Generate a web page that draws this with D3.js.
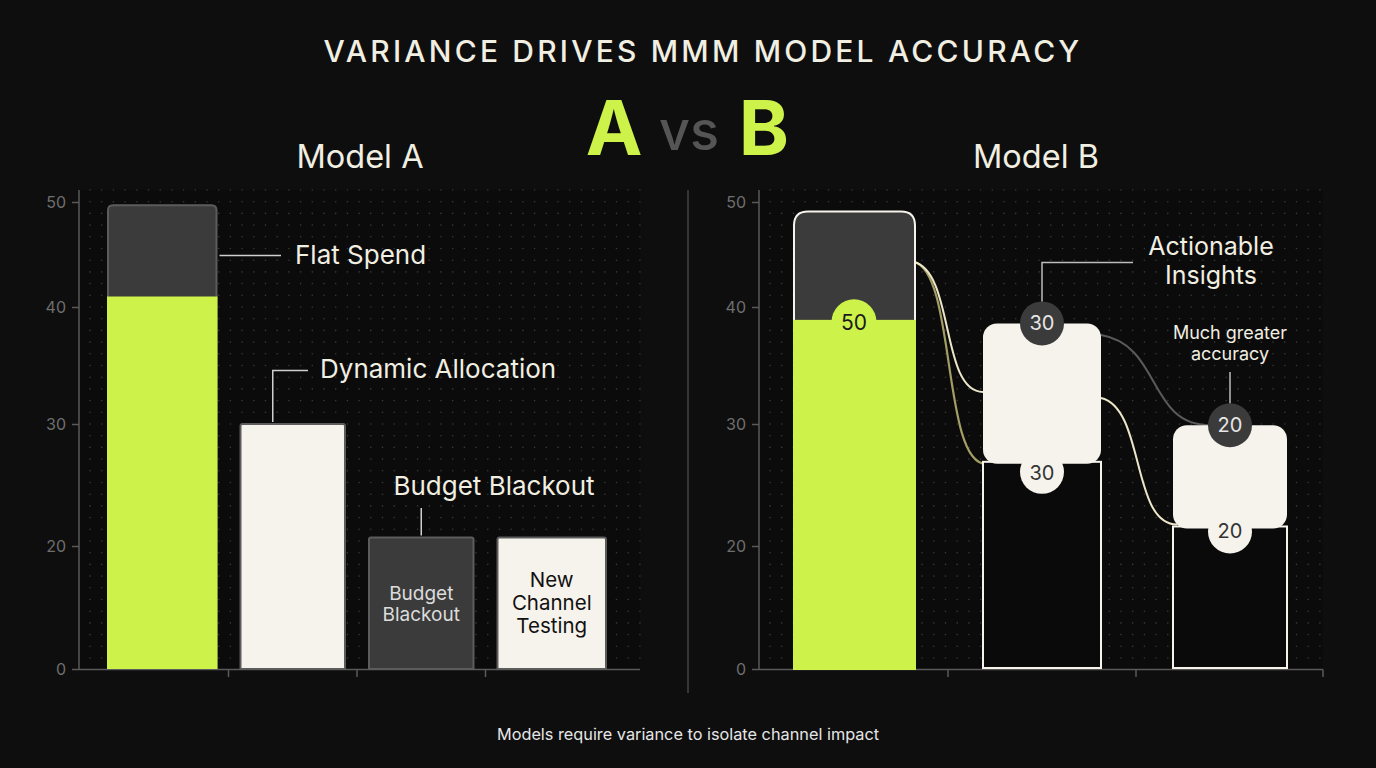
<!DOCTYPE html>
<html><head><meta charset="utf-8">
<script src="https://cdn.jsdelivr.net/npm/d3@7"></script>
<style>
html,body{margin:0;padding:0;background:#0e0e0e;}
svg{display:block;font-family:Inter,"Noto Sans",sans-serif;}
</style></head>
<body><svg id="c" width="1376" height="768"></svg>
<script>
// ---- data ----
const yTicks = [0, 20, 30, 40, 50];
const modelACategories = ["Flat Spend", "Dynamic Allocation", "Budget Blackout", "New Channel Testing"];
const modelAValues = [49.7, 30, 20.7, 20.7];
const modelAFlatGreen = 41;           // green (contributing) part of the first bar
const modelAInnerLabels = [null, null, ["Budget", "Blackout"], ["New", "Channel", "Testing"]];
const modelBCategories = ["Channel 1", "Channel 2", "Channel 3"];
const modelBBase = [38.9, 26.9, 21.6];   // lower (baseline) portion
const modelBTop = [49.1, 38.6, 29.9];    // top of the attributed block
const modelBLabels = [50, 30, 20];

// ---- styling ----
const C = {bg:"#0e0e0e", plot:"#0b0b0b", green:"#cdf24a", dark:"#3b3b3b", cream:"#f6f3ec",
  axis:"#5a5a5a", tick:"#6e6e6e", text:"#f1eee2", dot:"#393939"};

const svg = d3.select("#c");
svg.append("rect").attr("width",1376).attr("height",768).attr("fill",C.bg);

// piecewise y scale (as in the reference axis)
const yScale = d3.scaleLinear().domain(yTicks).range([669, 546, 424, 307, 202]);

const xA = d3.scaleBand().domain(modelACategories).range([100, 614]);
const xB = d3.scaleBand().domain(modelBCategories).range([760, 1324]);

function plotFrame(x0, x1, xScale){
  svg.append("rect").attr("x",x0).attr("y",190).attr("width",x1-x0).attr("height",479).attr("fill",C.plot);
  const g = svg.append("g");
  const sp = 11.7;
  for(let yy=190; yy<668; yy+=sp){
    for(let xx=x0+11; xx<x1; xx+=sp){
      g.append("circle").attr("cx",xx).attr("cy",yy).attr("r",0.8).attr("fill",C.dot);
    }
  }
  const ax = svg.append("g").attr("transform",`translate(${x0},0)`)
    .call(d3.axisLeft(yScale).tickValues(yTicks).tickSize(7).tickPadding(6));
  ax.select(".domain").remove();
  ax.selectAll("line").attr("stroke",C.axis).attr("stroke-width",1.5);
  ax.selectAll("text").attr("fill",C.tick).attr("font-size",16).attr("font-family","Inter,sans-serif");
  svg.append("line").attr("x1",x0).attr("x2",x0).attr("y1",190).attr("y2",669.5).attr("stroke",C.axis).attr("stroke-width",1.5);
  svg.append("line").attr("x1",x0).attr("x2",x1).attr("y1",669.5).attr("y2",669.5).attr("stroke",C.axis).attr("stroke-width",1.5);
  const dom = xScale.domain();
  dom.forEach((d,i)=>{ if(i>0){ const bx = xScale(d);
    svg.append("line").attr("x1",bx).attr("x2",bx).attr("y1",669.5).attr("y2",677).attr("stroke",C.axis).attr("stroke-width",1.5);} });
}
plotFrame(79, 640, xA);
plotFrame(759, 1323, xB);
// end tick on right axis
svg.append("line").attr("x1",xB.range()[1]-1).attr("x2",xB.range()[1]-1).attr("y1",669.5).attr("y2",677).attr("stroke",C.axis).attr("stroke-width",1.5);

// divider
svg.append("line").attr("x1",688).attr("x2",688).attr("y1",190).attr("y2",693).attr("stroke","#444").attr("stroke-width",1.5);

// titles
svg.append("text").attr("x",703).attr("y",62).attr("text-anchor","middle").attr("fill",C.text)
  .attr("font-size",30).attr("font-weight",500).attr("letter-spacing",3.2).text("VARIANCE DRIVES MMM MODEL ACCURACY");
svg.append("text").attr("x",614).attr("y",155).attr("text-anchor","middle").attr("fill",C.green)
  .attr("font-size",76).attr("font-weight",700).text("A");
svg.append("text").attr("x",689).attr("y",150).attr("text-anchor","middle").attr("fill","#555")
  .attr("font-size",54).attr("font-weight",500).text("vs");
svg.append("text").attr("x",764).attr("y",155).attr("text-anchor","middle").attr("fill",C.green)
  .attr("font-size",76).attr("font-weight",700).text("B");
svg.append("text").attr("x",360).attr("y",168).attr("text-anchor","middle").attr("fill",C.text).attr("font-size",32.5).text("Model A");
svg.append("text").attr("x",1036).attr("y",168).attr("text-anchor","middle").attr("fill",C.text).attr("font-size",32.5).text("Model B");
svg.append("text").attr("x",688).attr("y",740).attr("text-anchor","middle").attr("fill","#e6e6e6").attr("font-size",16.3).text("Models require variance to isolate channel impact");

// ---- Model A bars ----
const insetA = 12;
function topRounded(x,y,w,h,r){
  return `M${x},${y+h}V${y+r}Q${x},${y} ${x+r},${y}H${x+w-r}Q${x+w},${y} ${x+w},${y+r}V${y+h}Z`;
}
const aFills = [C.dark, C.cream, C.dark, C.cream];
modelACategories.forEach((cat,i)=>{
  let x = xA(cat)+insetA, w = xA.bandwidth()-2*insetA;
  if(i===0){ x -= 4; w += 4; }
  if(i===3){ w += 4; }
  const yt = yScale(modelAValues[i]);
  svg.append("path").attr("d",topRounded(x,yt,w,669-yt,i===0?5:2)).attr("fill",aFills[i])
    .attr("stroke","#5c5c5c").attr("stroke-width",2);
  if(i===0){
    const yg = yScale(modelAFlatGreen);
    svg.append("rect").attr("x",x-1).attr("y",yg).attr("width",w+2).attr("height",669-yg).attr("fill",C.green);
  }
  const lines = modelAInnerLabels[i];
  if(lines){
    const cx = x+w/2, fs = i===2?19:20.5, lh = i===2?21:23;
    const cy = i===2?603.5:603;
    lines.forEach((t,j)=>{
      svg.append("text").attr("x",cx).attr("y",cy+(j-(lines.length-1)/2)*lh+7).attr("text-anchor","middle")
        .attr("fill",i===2?"#dcdcdc":"#111").attr("font-size",fs).text(t);
    });
  }
});
// annotations Model A
const lead = (pts,col)=>svg.append("path").attr("d",d3.line()(pts)).attr("fill","none").attr("stroke",col||"#cfcfcf").attr("stroke-width",1.5);
{
  const x1 = xA(modelACategories[0])+xA.bandwidth()-insetA+3;
  const yy = 255.5;
  lead([[x1,yy],[281,yy]]);
  svg.append("text").attr("x",295).attr("y",264).attr("fill",C.text).attr("font-size",26).text("Flat Spend");
  const cx2 = xA(modelACategories[1])+xA.bandwidth()/2 - 20;
  lead([[cx2,yScale(modelAValues[1])-2],[cx2,370.5],[308,370.5]]);
  svg.append("text").attr("x",320).attr("y",378).attr("fill",C.text).attr("font-size",26).text("Dynamic Allocation");
  const cx3 = xA(modelACategories[2])+xA.bandwidth()/2;
  lead([[cx3,yScale(modelAValues[2])-2],[cx3,508]]);
  svg.append("text").attr("x",494).attr("y",495).attr("text-anchor","middle").attr("fill",C.text).attr("font-size",26).text("Budget Blackout");
}

// ---- Model B ----
const insetB = 35;
const bx = i => xB(modelBCategories[i])+insetB;
const bw = xB.bandwidth()-2*insetB;
const bcx = i => xB(modelBCategories[i])+xB.bandwidth()/2;

// connectors (drawn first so blocks sit on top)
function curve(x0,y0,x1,y1,col,w){
  const mx = (x0+x1)/2;
  svg.append("path").attr("d",`M${x0},${y0}C${mx+6},${y0+10} ${mx-8},${y1} ${x1},${y1}`)
    .attr("fill","none").attr("stroke",col).attr("stroke-width",w||2);
}
{
  const r0 = bx(0)+bw+1;
  curve(r0, 262, bx(1)+3, yScale(modelBBase[1])+2, "#a29e64", 2.2);
  curve(r0, 262, bx(1), 392, "#ece6c8", 2);
  const r1 = bx(1)+bw;
  curve(r1, 335, bcx(2)-20, yScale(modelBTop[2]), "#5a5a5a", 2);
  curve(r1, 398, bx(2)+6, yScale(modelBBase[2])-2, "#ece6c8", 2);
}

// bar 1: full block + green base
{
  const x = bx(0), w = bw+2;
  const yt = yScale(modelBTop[0]);
  svg.append("path").attr("d",topRounded(x-1,yt,w+1,669-yt,14)).attr("fill",C.dark).attr("stroke",C.cream).attr("stroke-width",2);
  const yg = yScale(modelBBase[0]);
  svg.append("circle").attr("cx",bcx(0)).attr("cy",yg+2).attr("r",22.5).attr("fill",C.green);
  svg.append("rect").attr("x",x-2).attr("y",yg).attr("width",w+3).attr("height",670-yg).attr("fill",C.green);
  svg.append("text").attr("x",bcx(0)).attr("y",yg+10).attr("text-anchor","middle").attr("fill","#1a1a1a").attr("font-size",21).text(modelBLabels[0]);
}
// bars 2,3
[1,2].forEach(i=>{
  const x = bx(i), yb = yScale(modelBBase[i]), yt = yScale(modelBTop[i]);
  const w = i===1?bw:bw-4, xx = i===1?x:x+2;
  svg.append("rect").attr("x",xx).attr("y",yb).attr("width",w).attr("height",668-yb).attr("fill","#0a0a0a")
    .attr("stroke",C.cream).attr("stroke-width",2);
  svg.append("rect").attr("x",xx).attr("y",yt).attr("width",w).attr("height",yb-yt+2).attr("rx",14).attr("fill",C.cream);
  const cx = bcx(i);
  svg.append("circle").attr("cx",cx).attr("cy",yb+(i===1?10:5)).attr("r",22).attr("fill",C.cream);
  svg.append("text").attr("x",cx).attr("y",yb+(i===1?18:12)).attr("text-anchor","middle").attr("fill","#333").attr("font-size",20).text(modelBLabels[i]);
  svg.append("circle").attr("cx",cx).attr("cy",yt).attr("r",22).attr("fill",C.dark);
  svg.append("text").attr("x",cx).attr("y",yt+7).attr("text-anchor","middle").attr("fill","#e6e6e6").attr("font-size",20).text(modelBLabels[i]);
});
// annotations Model B
{
  const cx = bcx(1);
  lead([[cx,yScale(modelBTop[1])-22],[cx,262.5],[1133,262.5]], "#bdbdbd");
  svg.append("text").attr("x",1211).attr("y",255).attr("text-anchor","middle").attr("fill",C.text).attr("font-size",25).text("Actionable");
  svg.append("text").attr("x",1211).attr("y",284).attr("text-anchor","middle").attr("fill",C.text).attr("font-size",25).text("Insights");
  const cx3 = bcx(2);
  lead([[cx3,372],[cx3,yScale(modelBTop[2])-22]], "#bdbdbd");
  svg.append("text").attr("x",1230).attr("y",339).attr("text-anchor","middle").attr("fill",C.text).attr("font-size",18).text("Much greater");
  svg.append("text").attr("x",1230).attr("y",360).attr("text-anchor","middle").attr("fill",C.text).attr("font-size",18).text("accuracy");
}
</script></body></html>
